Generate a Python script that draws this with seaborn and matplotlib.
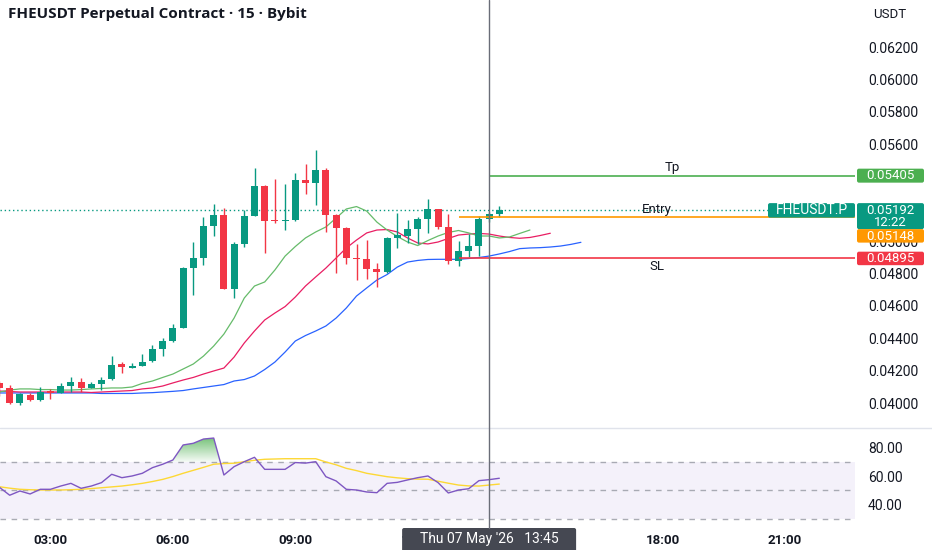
import numpy as np
import pandas as pd
import seaborn as sns
import matplotlib.pyplot as plt
from matplotlib.patches import FancyBboxPatch

# 15 min candles, Thu 07 May '26 01:45 -> 14:00
times = pd.date_range("2026-05-07 01:45", periods=50, freq="15min")

opens = [0.04124, 0.04091, 0.04002, 0.04049, 0.04019, 0.04074, 0.04064, 0.04105, 0.04132, 0.04095,
         0.04117, 0.04146, 0.04239, 0.04216, 0.04231, 0.04260, 0.04334, 0.04385, 0.04462, 0.04836,
         0.04894, 0.05096, 0.05162, 0.04705, 0.04983, 0.05158, 0.05343, 0.05131, 0.05125, 0.05131,
         0.05378, 0.05358, 0.05440, 0.05159, 0.05080, 0.04896, 0.04888, 0.04826, 0.04811, 0.05018,
         0.05032, 0.05073, 0.05135, 0.05197, 0.05090, 0.04878, 0.04939, 0.04970, 0.05135, 0.05166]
highs = [0.04136, 0.04111, 0.04064, 0.04060, 0.04097, 0.04087, 0.04122, 0.04163, 0.04156, 0.04128,
         0.04163, 0.04290, 0.04252, 0.04245, 0.04301, 0.04358, 0.04400, 0.04486, 0.04842, 0.04993,
         0.05148, 0.05228, 0.05203, 0.04997, 0.05193, 0.05450, 0.05347, 0.05384, 0.05352, 0.05420,
         0.05475, 0.05564, 0.05454, 0.05165, 0.05088, 0.04983, 0.05007, 0.04865, 0.05026, 0.05176,
         0.05131, 0.05151, 0.05259, 0.05199, 0.05166, 0.05001, 0.05043, 0.05156, 0.05182, 0.05217]
lows = [0.04043, 0.03994, 0.03988, 0.04014, 0.04014, 0.04025, 0.04060, 0.04070, 0.04070, 0.04091,
        0.04080, 0.04142, 0.04184, 0.04214, 0.04229, 0.04255, 0.04290, 0.04379, 0.04462, 0.04667,
        0.04853, 0.05034, 0.04703, 0.04647, 0.04966, 0.05158, 0.04929, 0.05111, 0.05069, 0.05127,
        0.05290, 0.05224, 0.05059, 0.04805, 0.04856, 0.04760, 0.04764, 0.04714, 0.04803, 0.04956,
        0.04987, 0.04983, 0.05052, 0.05075, 0.04859, 0.04847, 0.04904, 0.04908, 0.05119, 0.05151]
closes = [0.04093, 0.04002, 0.04054, 0.04019, 0.04070, 0.04068, 0.04105, 0.04132, 0.04091, 0.04116,
          0.04142, 0.04235, 0.04221, 0.04229, 0.04255, 0.04332, 0.04383, 0.04462, 0.04836, 0.04894,
          0.05096, 0.05162, 0.04705, 0.04983, 0.05158, 0.05343, 0.05127, 0.05122, 0.05134, 0.05378,
          0.05358, 0.05440, 0.05162, 0.05083, 0.04894, 0.04887, 0.04826, 0.04811, 0.05018, 0.05038,
          0.05073, 0.05135, 0.05197, 0.05090, 0.04878, 0.04939, 0.04970, 0.05135, 0.05166, 0.05192]

# alligator lines (shifted forward past the last candle)
lips = [0.04068, 0.04080, 0.04087, 0.04087, 0.04083, 0.04083, 0.04080, 0.04080, 0.04083, 0.04087,
        0.04090, 0.04093, 0.04093, 0.04099, 0.04121, 0.04136, 0.04158, 0.04179, 0.04210, 0.04241,
        0.04290, 0.04352, 0.04426, 0.04525, 0.04649, 0.04723, 0.04748, 0.04822, 0.04908, 0.04967,
        0.05020, 0.05057, 0.05088, 0.05143, 0.05199, 0.05214, 0.05186, 0.05118, 0.05069, 0.05029,
        0.04995, 0.04973, 0.05004, 0.05032, 0.05054, 0.05066, 0.05051, 0.05032, 0.05032, 0.05020,
        0.05026, 0.05048, 0.05069]
teeth = [0.04074, 0.04071, 0.04068, 0.04068, 0.04068, 0.04068, 0.04068, 0.04068, 0.04068, 0.04065,
         0.04068, 0.04071, 0.04074, 0.04077, 0.04087, 0.04093, 0.04105, 0.04124, 0.04142, 0.04158,
         0.04179, 0.04198, 0.04216, 0.04284, 0.04371, 0.04445, 0.04513, 0.04556, 0.04596, 0.04655,
         0.04723, 0.04779, 0.04834, 0.04896, 0.04958, 0.05007, 0.05051, 0.05069, 0.05072, 0.05057,
         0.05020, 0.04989, 0.04983, 0.04995, 0.05017, 0.05038, 0.05044, 0.05048, 0.05044, 0.05032,
         0.05023, 0.05018, 0.05023, 0.05035, 0.05049]
jaw = [0.04062, 0.04062, 0.04062, 0.04062, 0.04062, 0.04062, 0.04062, 0.04062, 0.04062, 0.04062,
       0.04059, 0.04059, 0.04059, 0.04059, 0.04062, 0.04064, 0.04068, 0.04072, 0.04077, 0.04087,
       0.04096, 0.04105, 0.04114, 0.04136, 0.04145, 0.04167, 0.04207, 0.04253, 0.04315, 0.04383,
       0.04417, 0.04445, 0.04476, 0.04525, 0.04587, 0.04661, 0.04711, 0.04760, 0.04794, 0.04840,
       0.04871, 0.04881, 0.04887, 0.04888, 0.04888, 0.04888, 0.04893, 0.04899, 0.04908, 0.04921,
       0.04936, 0.04954, 0.04958, 0.04960, 0.04964, 0.04970, 0.04980, 0.04993]

rsi = [52.1, 46.5, 49.5, 47.4, 50.7, 50.7, 53.0, 54.9, 51.4, 53.0,
       55.4, 61.3, 58.9, 60.1, 62.0, 66.0, 68.4, 71.4, 82.0, 83.2,
       86.2, 86.9, 60.8, 66.7, 70.2, 73.3, 64.8, 64.8, 64.8, 69.6,
       69.2, 70.2, 59.6, 56.6, 50.7, 50.2, 48.8, 48.3, 54.9, 55.6,
       57.3, 58.9, 60.1, 55.4, 48.1, 50.2, 51.1, 56.8, 57.5, 58.5]
rsi_ma = [52.5, 51.5, 50.7, 50.4, 50.2, 50.2, 50.2, 50.4, 50.7, 51.2,
          51.8, 52.4, 53.0, 53.9, 54.9, 56.2, 57.7, 59.7, 62.0, 64.1,
          66.2, 68.4, 68.9, 69.1, 70.2, 71.2, 71.9, 72.1, 72.3, 72.3,
          72.3, 72.3, 70.0, 68.0, 65.5, 63.9, 62.0, 60.8, 59.6, 58.8,
          58.2, 57.9, 57.8, 56.4, 55.0, 53.7, 53.1, 53.0, 53.7, 54.4]

tp_price = 0.05405
entry_price = 0.05148
sl_price = 0.04895
last_price = 0.05192
countdown = "12:22"
crosshair_time = "2026-05-07 13:45"
crosshair_label = "Thu 07 May '26   13:45"

price_ticks = [0.040, 0.042, 0.044, 0.046, 0.048, 0.050, 0.052, 0.054, 0.056, 0.058, 0.060, 0.062]
hidden_prices = [0.052, 0.054]  # sit under the price tags
rsi_ticks = [40, 60, 80]
time_labels = ["03:00", "06:00", "09:00", "12:00", "15:00", "18:00", "21:00"]
hidden_times = ["15:00"]  # under the crosshair date box

UP = "#089981"
DOWN = "#F23645"
TEXT = "#131722"

sns.set_style("white")
plt.rcParams["font.family"] = ["Roboto", "DejaVu Sans"]

W, H = 932, 550
fig = plt.figure(figsize=(W / 100, H / 100), dpi=100)
ax = fig.add_axes([0, 1 - 427 / H, 855 / W, 427 / H])
ax2 = fig.add_axes([0, 1 - 528 / H, 855 / W, 100 / H])

step = pd.Timedelta("15min")
idx = np.arange(len(times))
o, h, l, c = map(np.array, (opens, highs, lows, closes))

# candles
col = np.where(c >= o, UP, DOWN)
ax.vlines(idx, l, h, colors=col, linewidth=1, zorder=3)
doji = np.abs(c - o) < 0.00008
body = np.where(doji, 0.00008, c - o)
ax.bar(idx, body, bottom=np.where(doji, np.minimum(o, c) - 0.00004, o),
       width=0.68, color=col, linewidth=0, zorder=4)

# alligator
sns.lineplot(x=np.arange(len(jaw)), y=jaw, ax=ax, color="#2962FF", linewidth=0.9, zorder=2)
sns.lineplot(x=np.arange(len(teeth)), y=teeth, ax=ax, color="#E91E63", linewidth=0.9, zorder=2)
sns.lineplot(x=np.arange(len(lips)), y=lips, ax=ax, color="#66BB6A", linewidth=0.9, zorder=2)

x_max = 83.87
cross_i = (pd.Timestamp(crosshair_time) - times[0]) / step

# last price dotted line
ax.axhline(last_price, color=UP, linewidth=1, linestyle=(0, (1, 2)), zorder=1)

# position lines
ax.hlines(tp_price, cross_i, x_max, color="#4CAF50", linewidth=1.2, zorder=5)
ax.hlines(entry_price, cross_i - 3, x_max, color="#FF9800", linewidth=1.2, zorder=5)
ax.hlines(sl_price, cross_i - 3, x_max, color="#F23645", linewidth=1.2, zorder=5)

ax.set_xlim(0.05, x_max)
ax.set_ylim(0.038517, 0.064905)
ax.set_yticks(price_ticks)
ax.set_yticklabels(["" if any(abs(v - hp) < 1e-9 for hp in hidden_prices) else f"{v:.5f}"
                    for v in price_ticks])
ax.yaxis.tick_right()
ax.tick_params(axis="y", length=0, pad=9.4, labelsize=10, labelcolor=TEXT)
ax.set_xticks([])
for s in ax.spines.values():
    s.set_visible(False)
ax.set_xlabel("")
ax.set_ylabel("")


def mid_px(y_val):
    return H - ax.transData.transform((0, y_val))[1]


# RSI pane
ax2.axhspan(30, 70, color="#7E57C2", alpha=0.08, linewidth=0)
for lvl in (70, 50, 30):
    ax2.axhline(lvl, color="#9598A1", linewidth=1, linestyle=(0, (4, 4)), alpha=0.8)

r = np.array(rsi)
poly = ax2.fill_between(idx, r, 70, where=r > 70, interpolate=True, color="none")
grad = np.zeros((100, 1, 4))
grad[:, 0, 0] = 0.30
grad[:, 0, 1] = 0.69
grad[:, 0, 2] = 0.31
grad[:, 0, 3] = np.linspace(0.75, 0.05, 100)
img = ax2.imshow(grad, extent=[0, 50, 70, r.max()], aspect="auto", origin="upper", zorder=1)
img.set_clip_path(poly.get_paths()[0], ax2.transData)

sns.lineplot(x=idx, y=rsi_ma, ax=ax2, color="#FDD835", linewidth=1, zorder=3)
sns.lineplot(x=idx, y=rsi, ax=ax2, color="#7E57C2", linewidth=1, zorder=4)

ax2.set_xlim(0.05, x_max)
ax2.set_ylim(23.36, 94.0)
ax2.set_yticks(rsi_ticks)
ax2.set_yticklabels([f"{v:.2f}" for v in rsi_ticks])
ax2.yaxis.tick_right()
ax2.tick_params(axis="y", length=0, pad=9.4, labelsize=10, labelcolor=TEXT)
tick_pos = [(pd.Timestamp(f"2026-05-07 {t}") - times[0]) / step for t in time_labels]
ax2.set_xticks(tick_pos)
ax2.set_xticklabels(["" if t in hidden_times else t for t in time_labels], fontweight="bold")
ax2.tick_params(axis="x", length=0, pad=4.5, labelsize=9.5, labelcolor=TEXT)
for s in ax2.spines.values():
    s.set_visible(False)
ax2.set_xlabel("")
ax2.set_ylabel("")

# overlay in pixel units for labels and tags
ov = fig.add_axes([0, 0, 1, 1], zorder=10)
ov.set_xlim(0, W)
ov.set_ylim(H, 0)
ov.axis("off")
ov.patch.set_alpha(0)

ov.plot([0, W], [427.5, 427.5], color="#E0E3EB", linewidth=1)

cx = ax.transData.transform((cross_i, 0))[0]
ov.plot([cx, cx], [0, 528], color="#6A6D78", linewidth=1)
ov.add_patch(FancyBboxPatch((cx - 87, 528), 174, 24, boxstyle="round,pad=0,rounding_size=2",
                            facecolor="#454852", edgecolor="none"))
ov.text(cx, 539.5, crosshair_label, color="white", fontsize=10, ha="center", va="center")

ov.text(8, 14, "FHEUSDT Perpetual Contract · 15 · Bybit", fontsize=11, fontweight="bold",
        color=TEXT, va="center", ha="left", family=["Open Sans", "DejaVu Sans"])
ov.text(873, 14, "USDT", fontsize=9.5, color=TEXT, va="center", ha="left")


def tag(y_top, height, face, lines):
    ov.add_patch(FancyBboxPatch((857, y_top), 67, height, boxstyle="round,pad=0,rounding_size=2",
                                facecolor=face, edgecolor="none"))
    for k, txt in enumerate(lines):
        ov.text(890.5, y_top + 7.2 + 12 * k, txt, color="white", fontsize=9.5,
                ha="center", va="center")


y_tp = mid_px(tp_price)
y_last = mid_px(last_price)
y_sl = mid_px(sl_price)
y_entry = mid_px(entry_price)

tag(y_tp - 7, 14, "#4CAF50", [f"{tp_price:.5f}"])
tag(y_last - 7, 26, UP, [f"{last_price:.5f}", countdown])
tag(y_last + 19, 13.5, "#FF9800", [f"{entry_price:.5f}"])
tag(y_sl - 6.5, 13.5, DOWN, [f"{sl_price:.5f}"])

ov.add_patch(FancyBboxPatch((768, y_last - 7), 87, 14.5, boxstyle="round,pad=0,rounding_size=2",
                            facecolor=UP, edgecolor="none"))
ov.text(811.5, y_last + 0.3, "FHEUSDT.P", color="white", fontsize=10, ha="center", va="center")

x_tp = ax.transData.transform(((cross_i + x_max) / 2, 0))[0]
x_en = ax.transData.transform(((cross_i - 3 + x_max) / 2, 0))[0]
ov.text(x_tp, y_tp - 8, "Tp", fontsize=9.5, color=TEXT, ha="center", va="center")
ov.text(x_en, y_entry - 8, "Entry", fontsize=9.5, color=TEXT, ha="center", va="center")
ov.text(x_en, y_sl + 8.5, "SL", fontsize=9.5, color=TEXT, ha="center", va="center")

fig.savefig("out.png", dpi=100)
